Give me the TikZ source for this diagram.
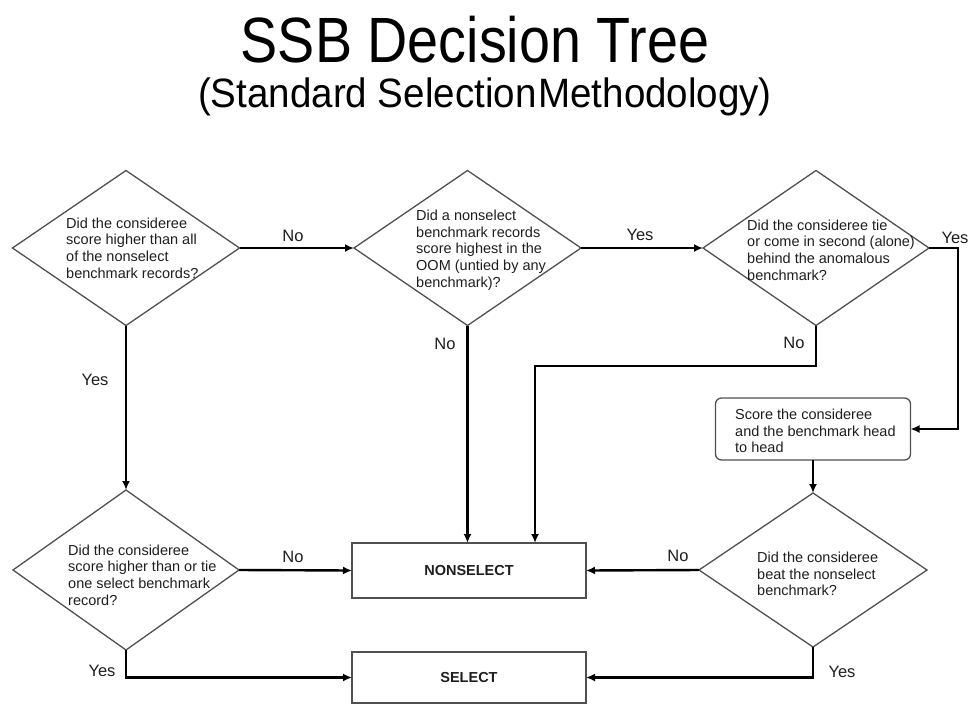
\documentclass[tikz,border=0pt]{standalone}
\usepackage{fontspec}
\usepackage{graphicx}
\setmainfont{Liberation Sans}
\usetikzlibrary{shapes.geometric,arrows.meta}
\definecolor{diagray}{HTML}{505050}
\definecolor{txt}{HTML}{1E1E1E}
\tikzset{
  dia/.style={diamond, draw=diagray, line width=1.3pt, inner sep=0pt, outer sep=0pt},
  boxnode/.style={rectangle, draw=diagray, line width=1.3pt, inner sep=0pt, outer sep=0pt},
  qtext/.style={anchor=west, align=left, inner sep=0pt, text=txt, font=\fontsize{14.5}{16.7}\selectfont},
  lbl/.style={inner sep=0pt, text=txt, font=\fontsize{16.5}{18}\selectfont},
  conn/.style={line width=2.4pt, black, -{Latex[length=9pt,width=8pt]}},
}
\begin{document}
\begin{tikzpicture}[x=1pt,y=-1pt]
\useasboundingbox (0,0) rectangle (970,705);
% titles
\node[anchor=base, inner sep=0pt, font=\fontsize{64}{64}\selectfont] (title) at (475,62) {\scalebox{0.87}[1]{SSB Decision Tree}};
\node[anchor=base, inner sep=0pt, font=\fontsize{41}{41}\selectfont] (subtitle) at (485,107) {\scalebox{0.94}[1]{(Standard Selection\kern2pt Methodology)}};
% diamonds
\node[dia, minimum width=227pt, minimum height=155pt] (d1) at (126,248) {};
\node[dia, minimum width=227pt, minimum height=155pt] (d2) at (467.5,248) {};
\node[dia, minimum width=226pt, minimum height=155pt] (d3) at (816,248) {};
\node[dia, minimum width=226pt, minimum height=160pt] (d4) at (126,570) {};
\node[dia, minimum width=228pt, minimum height=154pt] (d5) at (813,570) {};
% diamond texts
\node[qtext] (d1t) at (66,248) {Did the consideree\\score higher than all\\of the nonselect\\benchmark records?};
\node[qtext] (d2t) at (416,250) {Did a nonselect\\benchmark records\\score highest in the\\OOM (untied by any\\benchmark)?};
\node[qtext] (d3t) at (747,250) {Did the consideree tie\\or come in second (alone)\\behind the anomalous\\benchmark?};
\node[qtext] (d4t) at (68,575) {Did the consideree\\score higher than or tie\\one select benchmark\\record?};
\node[qtext] (d5t) at (757,574) {Did the consideree\\beat the nonselect\\benchmark?};
% boxes
\node[boxnode, rounded corners=6pt, minimum width=195pt, minimum height=62pt] (hh) at (813,429) {};
\node[qtext] (hht) at (735,431) {Score the consideree\\and the benchmark head\\to head};
\node[boxnode, minimum width=234pt, minimum height=55pt, font=\bfseries\fontsize{14.5}{16}\selectfont, text=txt] (ns) at (469,570.5) {NONSELECT};
\node[boxnode, minimum width=234pt, minimum height=51pt, font=\bfseries\fontsize{14.5}{16}\selectfont, text=txt] (sel) at (469,677.5) {SELECT};
% helper coordinates
\coordinate (c1) at (958,248);
\coordinate (c2) at (535,366);
% connectors
\draw[conn] (d1.east) -- (d2.west);
\draw[conn] (d2.east) -- (d3.west);
\draw[conn] (d3.east) -- (c1) |- (hh.east);
\draw[conn] (d3.south) |- (c2) -- (c2 |- ns.north);
\draw[conn] (d2.south) -- (d2.south |- ns.north);
\draw[conn] (d1.south) -- (d4.north);
\draw[conn] (d4.east) -- (ns.west);
\draw[conn] (d4.south) |- (sel.west);
\draw[conn] (hh.south) -- (d5.north);
\draw[conn] (d5.west) -- (ns.east);
\draw[conn] (d5.south) |- (sel.east);
% labels
\node[lbl] (l1) at (293,236) {No};
\node[lbl] (l2) at (640,235) {Yes};
\node[lbl] (l3) at (955,238) {Yes};
\node[lbl] (l4) at (794,343) {No};
\node[lbl] (l5) at (445,344) {No};
\node[lbl] (l6) at (95,380) {Yes};
\node[lbl] (l7) at (293,557) {No};
\node[lbl] (l8) at (102,671) {Yes};
\node[lbl] (l9) at (678,556) {No};
\node[lbl] (l10) at (842,672) {Yes};
\end{tikzpicture}
\end{document}
